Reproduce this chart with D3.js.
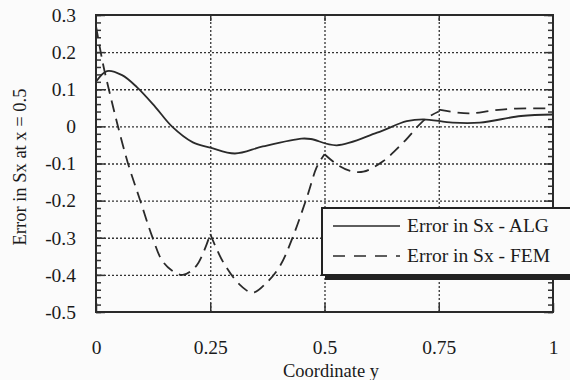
<!DOCTYPE html>
<html>
<head>
<meta charset="utf-8">
<script src="https://cdn.jsdelivr.net/npm/d3@7"></script>
<style>
  body { margin: 0; background: #fbfbfb; }
  svg text { font-family: "Liberation Serif", "Times New Roman", serif; fill: #1a1a1a; }
  .grid line { stroke: #333; stroke-width: 1.3; stroke-dasharray: 2,2; }
  .grid path { display: none; }
</style>
</head>
<body>
<div id="chart"></div>
<script>
// values
var yTicks = [-0.5, -0.4, -0.3, -0.2, -0.1, 0, 0.1, 0.2, 0.3];
var yLabels = ["-0.5", "-0.4", "-0.3", "-0.2", "-0.1", "0", "0.1", "0.2", "0.3"];
var xTicks = [0, 0.25, 0.5, 0.75, 1];
var xLabels = ["0", "0.25", "0.5", "0.75", "1"];
var elemBreaks = [0.25, 0.5, 0.75];   // FEM curve has kinks here

var algX = [0, 0.024, 0.057, 0.09, 0.13, 0.166, 0.212, 0.25, 0.304, 0.365, 0.45, 0.47, 0.527, 0.615, 0.68, 0.716, 0.78, 0.84, 0.93, 1];
var algY = [0.12, 0.149, 0.138, 0.105, 0.052, 0, -0.043, -0.057, -0.073, -0.054, -0.033, -0.034, -0.051, -0.017, 0.014, 0.019, 0.01, 0.01, 0.028, 0.032];

var femX = [0, 0.015, 0.03, 0.046, 0.07, 0.096, 0.123, 0.144, 0.166, 0.19, 0.22, 0.25,
            0.278, 0.315, 0.343, 0.374, 0.403, 0.431, 0.462, 0.483, 0.5,
            0.53, 0.556, 0.585, 0.628, 0.672, 0.72, 0.75,
            0.79, 0.82, 0.87, 0.92, 1];
var femY = [0.27, 0.17, 0.09, 0.01, -0.1, -0.197, -0.297, -0.36, -0.388, -0.4, -0.375, -0.29,
            -0.365, -0.427, -0.448, -0.42, -0.375, -0.297, -0.189, -0.11, -0.075,
            -0.105, -0.12, -0.122, -0.094, -0.044, 0.019, 0.04,
            0.037, 0.035, 0.043, 0.048, 0.048];
var femJump = 0.045;  // FEM value just right of y = 0.75

var seriesNames = ["Error in Sx - ALG", "Error in Sx - FEM"];

var W = 570, H = 380;
var m = {left: 96, right: 17, top: 15, bottom: 68};
var w = W - m.left - m.right, h = H - m.top - m.bottom;

var svg = d3.select("#chart").append("svg")
    .attr("width", W).attr("height", H);
var g = svg.append("g").attr("transform", "translate(" + m.left + "," + m.top + ")");

var x = d3.scaleLinear().domain([0, 1]).range([0, w]);
var y = d3.scaleLinear().domain([-0.5, 0.3]).range([h, 0]);

// dotted grid
g.append("g").attr("class", "grid")
  .call(d3.axisLeft(y).tickValues(yTicks.slice(1, -1)).tickSize(-w).tickFormat(""));
g.append("g").attr("class", "grid")
  .attr("transform", "translate(0," + h + ")")
  .call(d3.axisBottom(x).tickValues(elemBreaks).tickSize(-h).tickFormat(""));

// minor ticks every 0.02 on both y sides
var minor = d3.range(-0.5, 0.3001, 0.02).map(function(v) { return +v.toFixed(2); });
function tickStyle(sel) {
  sel.select(".domain").remove();
  sel.selectAll("line").attr("stroke", "#333").attr("stroke-width", 1.5);
}
g.append("g").call(d3.axisLeft(y).tickValues(minor).tickSize(-5).tickFormat("")).call(tickStyle);
g.append("g").attr("transform", "translate(" + w + ",0)")
  .call(d3.axisRight(y).tickValues(minor).tickSize(-5).tickFormat("")).call(tickStyle);

// major ticks + labels
var yAxis = g.append("g")
  .call(d3.axisLeft(y).tickValues(yTicks).tickSize(-9).tickPadding(20)
    .tickFormat(function(d, i) { return yLabels[i]; }))
  .call(tickStyle);
g.append("g").attr("transform", "translate(" + w + ",0)")
  .call(d3.axisRight(y).tickValues(yTicks).tickSize(-9).tickFormat("")).call(tickStyle);
var xAxis = g.append("g").attr("transform", "translate(0," + h + ")")
  .call(d3.axisBottom(x).tickValues(xTicks).tickSize(-9).tickPadding(28)
    .tickFormat(function(d, i) { return xLabels[i]; }))
  .call(tickStyle);
g.append("g")
  .call(d3.axisTop(x).tickValues(elemBreaks).tickSize(-6).tickFormat("")).call(tickStyle);

[yAxis, xAxis].forEach(function(a) {
  a.attr("font-family", null).attr("font-size", null);
  a.selectAll("text").style("font-size", "19.5px");
});

// frame
g.append("rect").attr("width", w).attr("height", h)
  .attr("fill", "none").attr("stroke", "#2a2a2a").attr("stroke-width", 2);

// curves
var alg = algX.map(function(v, i) { return [v, algY[i]]; });
var fem = femX.map(function(v, i) { return [v, femY[i]]; });
var line = d3.line().x(function(d) { return x(d[0]); }).y(function(d) { return y(d[1]); })
  .curve(d3.curveCatmullRom.alpha(0.5));

g.append("path").datum(alg).attr("d", line)
  .attr("fill", "none").attr("stroke", "#2a2a2a").attr("stroke-width", 1.8);

// FEM drawn per element so the kinks stay sharp
var bounds = [0].concat(elemBreaks, [1]);
var femPath = "";
for (var k = 0; k < bounds.length - 1; k++) {
  var seg = fem.filter(function(d) { return d[0] >= bounds[k] && d[0] <= bounds[k + 1]; });
  if (k == 3) seg[0] = [0.75, femJump];
  femPath += line(seg);
}
g.append("path").attr("d", femPath)
  .attr("fill", "none").attr("stroke", "#2a2a2a").attr("stroke-width", 1.8)
  .attr("stroke-dasharray", "12,7");

// axis titles
svg.append("text").attr("x", 331).attr("y", 377)
  .attr("text-anchor", "middle").style("font-size", "18.5px")
  .text("Coordinate y");
svg.append("text").attr("transform", "translate(26,167) rotate(-90)")
  .attr("text-anchor", "middle").style("font-size", "18.5px")
  .text("Error in Sx at x = 0.5");

// legend with drop shadow, runs off the right edge like the scan
var lg = svg.append("g").attr("transform", "translate(322,208)");
lg.append("rect").attr("x", 3).attr("y", 5).attr("width", 270).attr("height", 67).attr("fill", "#222");
lg.append("rect").attr("width", 270).attr("height", 67)
  .attr("fill", "#fbfbfb").attr("stroke", "#222").attr("stroke-width", 2);
seriesNames.forEach(function(name, i) {
  var yy = 18 + i * 30;
  lg.append("line").attr("x1", 11).attr("x2", 78).attr("y1", yy).attr("y2", yy)
    .attr("stroke", "#2a2a2a").attr("stroke-width", 1.6)
    .attr("stroke-dasharray", i == 1 ? "12,9" : null);
  lg.append("text").attr("x", 85).attr("y", yy + 6).style("font-size", "19.5px")
    .text(name);
});
</script>
</body>
</html>
